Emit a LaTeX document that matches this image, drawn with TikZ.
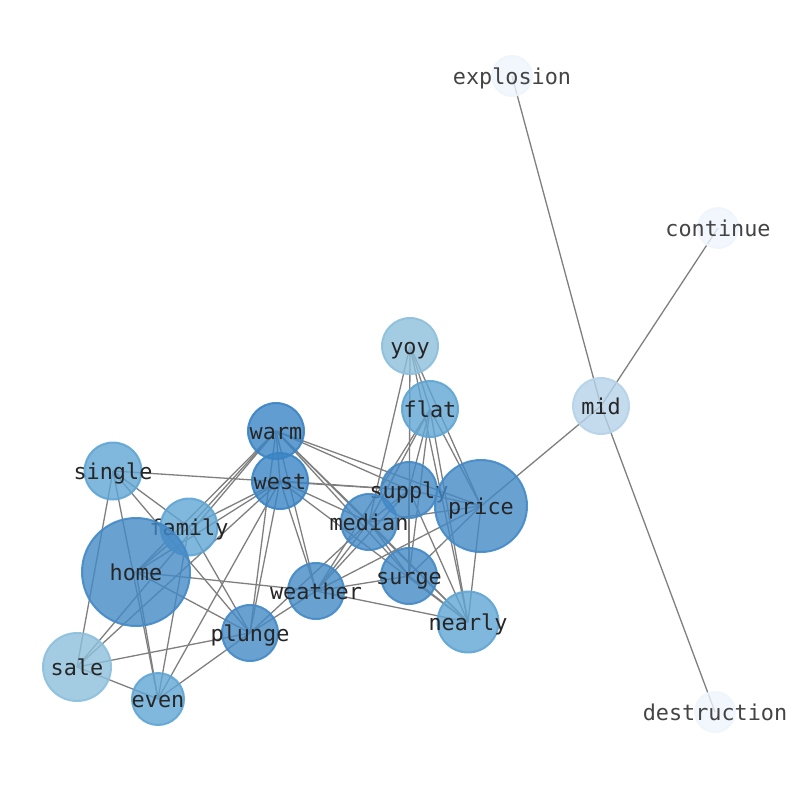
\documentclass[tikz,border=0pt]{standalone}
\usepackage{fontspec}
\newfontfamily\lab{DejaVu Sans Mono}
\usetikzlibrary{backgrounds}
\definecolor{cA}{HTML}{3A84C4}
\definecolor{cB}{HTML}{4389C6}
\definecolor{cC}{HTML}{60A5D3}
\definecolor{cD}{HTML}{8CBFDC}
\definecolor{cE}{HTML}{B5D2E9}
\definecolor{cF}{HTML}{EEF5FC}
\definecolor{edgegray}{HTML}{7F7F7F}
\definecolor{txt}{HTML}{262626}
\definecolor{txtp}{HTML}{444444}
\tikzset{
  labtext/.style={text opacity=1, inner sep=0pt, text height=16.6bp, text depth=0pt,
    font=\lab\fontsize{21.9}{22}\selectfont},
  vert/.style n args={3}{circle, inner sep=0pt, minimum size=#2*2bp, fill=#1, draw=#1,
    line width=2bp, fill opacity=0.8, draw opacity=0.9,
    label={[labtext, text=txt]center:#3}},
  pvert/.style={circle, inner sep=0pt, minimum size=40bp, fill=cF, draw=cF,
    line width=2bp, fill opacity=0.8, draw opacity=0.9,
    label={[labtext, text=txtp]center:#1}},
  conn/.style={draw=edgegray, line width=1.3bp}
}
\begin{document}
\begin{tikzpicture}[x=1bp,y=-1bp]
\useasboundingbox (0,0) rectangle (794,790);
\node[pvert={explosion}] (explosion) at (512,76) {};
\node[pvert={continue}] (continue) at (718,228) {};
\node[pvert={destruction}] (destruction) at (715,712) {};
\node[vert={cE}{28}{mid}] (mid) at (601,406) {};
\node[vert={cD}{28}{yoy}] (yoy) at (410,346) {};
\node[vert={cC}{28}{flat}] (flat) at (430,409) {};
\node[vert={cA}{28}{warm}] (warm) at (276,431) {};
\node[vert={cA}{28}{west}] (west) at (280,481) {};
\node[vert={cC}{28.5}{single}] (single) at (113,471) {};
\node[vert={cB}{28}{supply}] (supply) at (409,490) {};
\node[vert={cB}{46}{price}] (price) at (481,506) {};
\node[vert={cB}{28}{median}] (median) at (369,522) {};
\node[vert={cC}{28.5}{family}] (family) at (189,527) {};
\node[vert={cB}{54}{home}] (home) at (136,572) {};
\node[vert={cB}{28}{surge}] (surge) at (409,576) {};
\node[vert={cB}{28}{weather}] (weather) at (316,591) {};
\node[vert={cC}{30.5}{nearly}] (nearly) at (468,622) {};
\node[vert={cB}{28}{plunge}] (plunge) at (250,633) {};
\node[vert={cD}{34}{sale}] (sale) at (77,667) {};
\node[vert={cC}{26}{even}] (even) at (158,699) {};
\begin{scope}[on background layer]
\foreach \a/\b in {explosion/mid, continue/mid, mid/destruction, mid/price,
  yoy/flat, yoy/median, yoy/surge, yoy/price, yoy/nearly,
  flat/median, flat/supply, flat/surge, flat/price, flat/nearly, flat/weather,
  warm/west, warm/family, warm/home, warm/sale, warm/supply, warm/price, warm/median,
  warm/surge, warm/nearly, warm/weather, warm/plunge,
  west/home, west/family, west/sale, west/even, west/supply, west/median, west/nearly,
  west/weather, west/plunge,
  single/supply, single/family, single/plunge, single/sale, single/even,
  family/home, family/even, family/plunge,
  home/weather, home/plunge, home/even,
  median/supply, median/surge, median/price, median/weather, median/nearly, median/plunge,
  supply/price, supply/surge, supply/weather, supply/nearly,
  price/surge, price/weather, price/nearly,
  surge/weather, surge/nearly,
  weather/nearly, weather/plunge,
  plunge/sale, plunge/even,
  sale/even}
  \draw[conn] (\a.center) -- (\b.center);
\end{scope}
\end{tikzpicture}
\end{document}
